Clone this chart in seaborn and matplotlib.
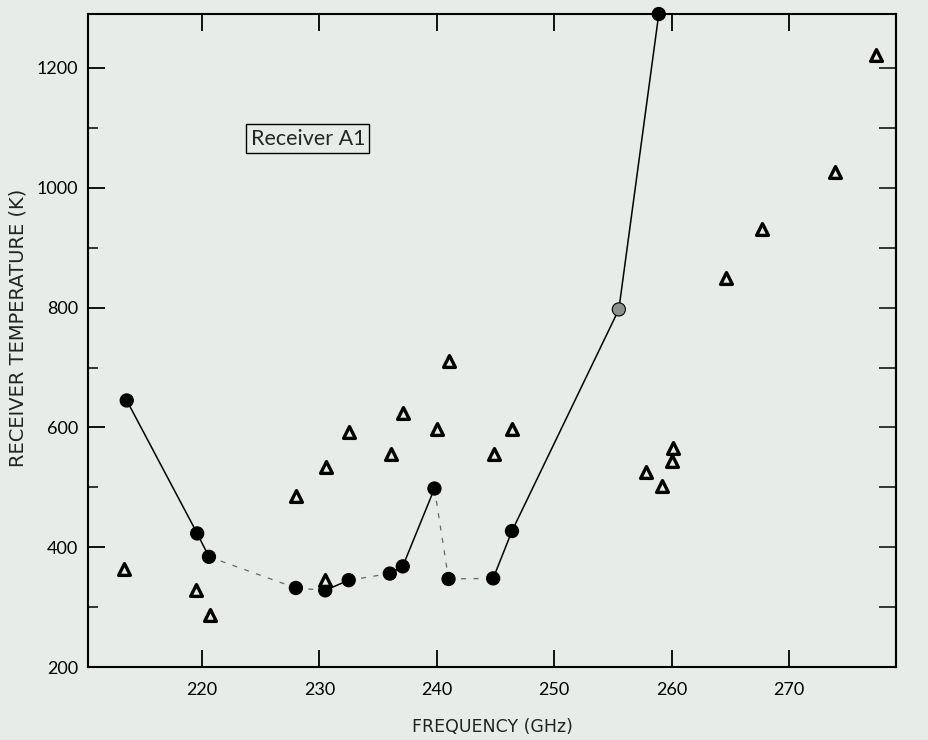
import matplotlib.pyplot as plt
import numpy as np
import pandas as pd
import seaborn as sns
from matplotlib.ticker import MultipleLocator

# filled circles, joined by a line (last one sits on the top frame)
circle_freq = [213.6, 219.6, 220.6, 228.0, 230.5, 232.5, 236.0, 237.1, 239.8, 241.0, 244.8, 246.4, 255.5, 258.9]
circle_temp = [645, 423, 384, 332, 328, 345, 356, 368, 498, 347, 348, 427, 797, 1290]
circle_fill = ['black'] * 12 + ['gray', 'black']

# how each piece of line between two neighbouring circles was printed
gap_style = ['solid', 'solid', 'faint', 'faint', 'solid', 'faint', 'solid',
             'solid', 'faint', 'faint', 'solid', 'solid', 'solid']

# open triangles
tri_freq = [213.4, 219.5, 220.7, 228.0, 230.5, 230.6, 232.5, 236.1, 237.1, 240.0, 241.0,
            244.9, 246.4, 257.8, 259.2, 260.0, 260.1, 264.6, 267.7, 273.9, 277.4]
tri_temp = [363, 329, 287, 485, 345, 534, 592, 555, 624, 598, 711,
            555, 597, 525, 502, 544, 566, 849, 931, 1027, 1222]

x_ticks = [220, 230, 240, 250, 260, 270]
y_labels = [200, 400, 600, 800, 1000, 1200]
y_right = [300, 400, 500, 600, 700, 800, 900, 1000, 1100, 1200]

paper = '#e8ece8'

sns.set_theme(style='ticks')
plt.rcParams['font.family'] = ['Lato', 'DejaVu Sans']

fig = plt.figure(figsize=(9.29, 7.40), dpi=100, facecolor=paper)
ax = fig.add_axes([0.0947, 0.0986, 0.8698, 0.8824])
ax.set_facecolor(paper)

rows = []
for i, kind in enumerate(gap_style):
    for j in (i, i + 1):
        rows.append({'seg': i, 'kind': kind, 'freq': circle_freq[j], 'temp': circle_temp[j]})
seg_df = pd.DataFrame(rows)

sns.lineplot(data=seg_df[seg_df['kind'] == 'solid'], x='freq', y='temp', units='seg',
             estimator=None, sort=False, color='black', lw=1.1, ax=ax, legend=False)
sns.lineplot(data=seg_df[seg_df['kind'] == 'faint'], x='freq', y='temp', units='seg',
             estimator=None, sort=False, color='#666666', lw=0.9, linestyle=(0, (4, 6)),
             ax=ax, legend=False)

circ_df = pd.DataFrame({'freq': circle_freq, 'temp': circle_temp, 'fill': circle_fill})
sns.scatterplot(data=circ_df, x='freq', y='temp', hue='fill',
                palette={'black': 'black', 'gray': '#8c918c'}, s=90,
                edgecolor='black', linewidth=0.8, legend=False, clip_on=False,
                zorder=4, ax=ax)

sns.scatterplot(x=tri_freq, y=tri_temp, marker='^', s=72, color=paper,
                edgecolor='black', linewidth=2.4, zorder=4, ax=ax)

ax.set_xlim(210.3, 279.1)
ax.set_ylim(200, 1290)
ax.set_xticks(x_ticks)
ax.set_yticks(y_labels)
ax.yaxis.set_minor_locator(MultipleLocator(100))

ax.tick_params(axis='x', which='major', direction='in', length=12, width=1.3,
               top=True, labelsize=13, pad=11, colors='black')
ax.tick_params(axis='y', which='major', direction='in', length=12, width=1.3,
               labelsize=13, pad=7, colors='black')
ax.tick_params(axis='y', which='minor', direction='in', length=7, width=1.3,
               left=True, right=False)

sec = ax.secondary_yaxis('right')
sec.set_yticks(y_right)
sec.tick_params(direction='in', length=12, width=1.3, labelright=False)
sec.spines['right'].set_linewidth(1.5)

for sp in ax.spines.values():
    sp.set_linewidth(1.5)
    sp.set_color('black')

ax.set_xlabel('FREQUENCY (GHz)', fontsize=12.5, labelpad=14, color='#222222',
              family=['DejaVu Sans'])
ax.set_ylabel('RECEIVER TEMPERATURE (K)', fontsize=14, color='#222222',
              family=['DejaVu Sans'])
ax.yaxis.set_label_coords(-0.075, 0.52)

ax.text(0.272, 0.809, 'Receiver A1', transform=ax.transAxes, fontsize=15.5,
        ha='center', va='center',
        bbox=dict(boxstyle='square,pad=0.2', facecolor='none', edgecolor='black', lw=1))

fig.savefig('out.png', dpi=100, facecolor=paper)
